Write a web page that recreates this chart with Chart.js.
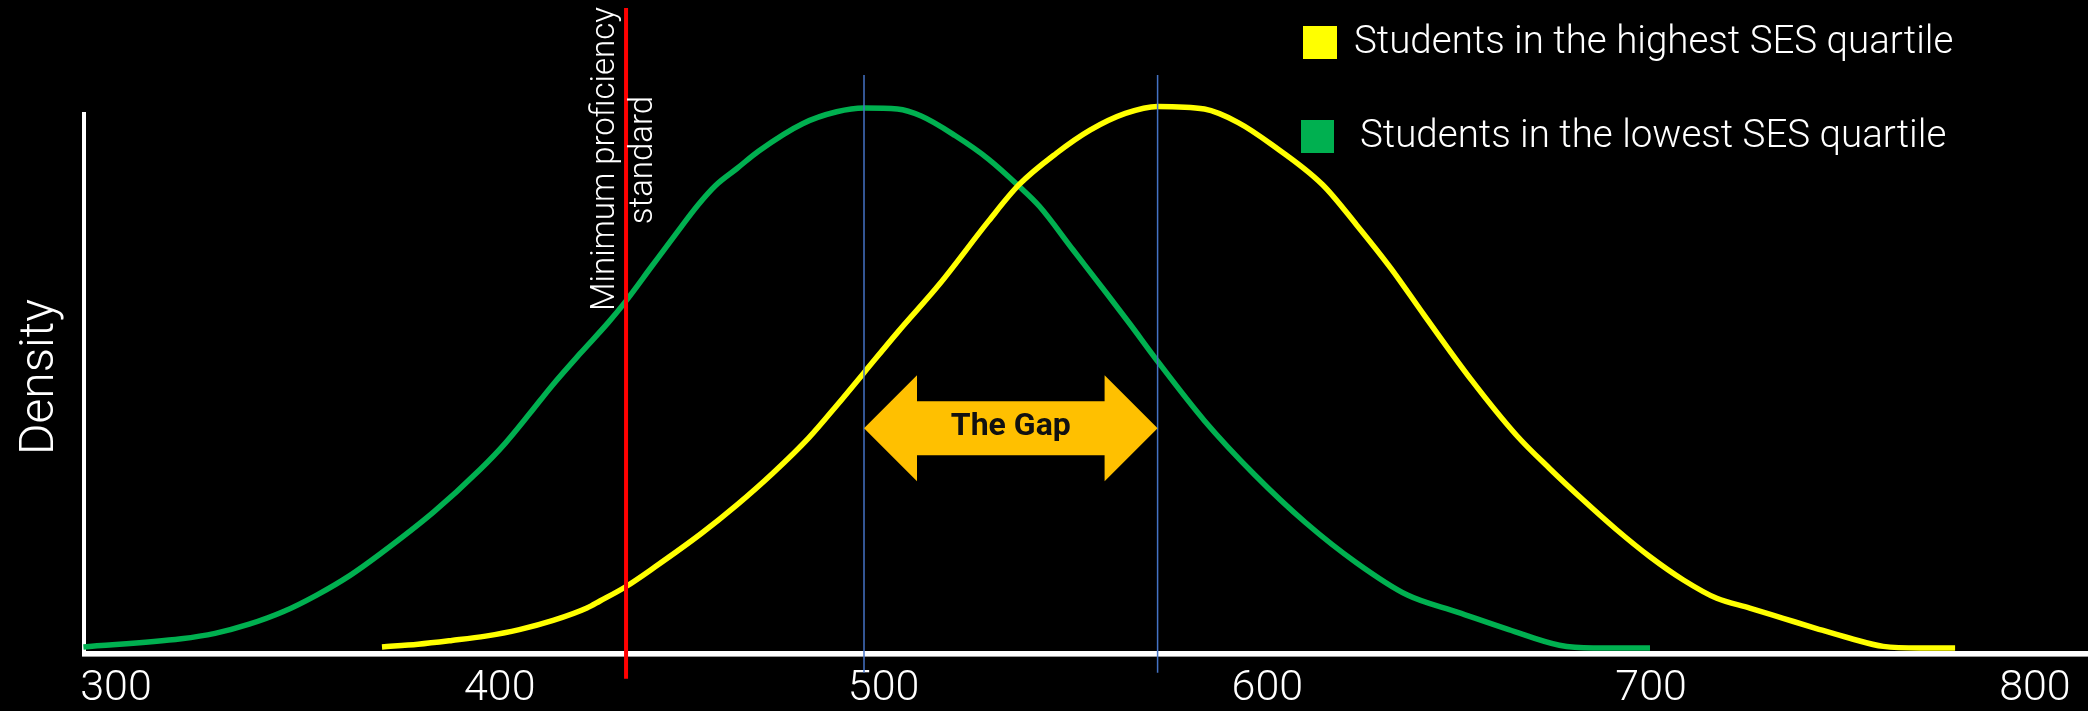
<!DOCTYPE html>
<html><head><meta charset="utf-8">
<script src="https://cdn.jsdelivr.net/npm/chart.js@4.4.1/dist/chart.umd.min.js"></script>
<style>
html,body{margin:0;padding:0;background:#000;overflow:hidden;}
#wrap{position:relative;width:2088px;height:711px;background:#000;}
</style></head><body>
<div id="wrap"><canvas id="c" width="2088" height="711"></canvas></div>
<script>
// ---- data ----
const seriesNames = ['Students in the highest SES quartile', 'Students in the lowest SES quartile'];
const seriesColors = ['#FFFF00', '#00B050'];
const xTicks = [300, 400, 500, 600, 700, 800];

// lowest SES quartile (green)
const lowX = [291.5, 317, 325.8, 334.7, 343.5, 352.3, 361.1, 368.8, 382.8, 394.8, 401.4, 407.9, 413.4, 420.9, 428.3, 432.7, 439.5, 446, 451.6, 456.3, 461.8, 467.4, 478.9, 487.8, 494.9, 503.6, 509.8, 518.6, 527.4, 535.3, 540.6, 549.4, 558.2, 564.2, 571.3, 583.6, 596.8, 610, 623.2, 636.5, 649.7, 662.9, 676.1, 684.9, 699.7];
const lowY = [0.002, 0.017, 0.027, 0.044, 0.067, 0.098, 0.135, 0.174, 0.252, 0.330, 0.379, 0.435, 0.484, 0.545, 0.603, 0.641, 0.706, 0.768, 0.820, 0.857, 0.888, 0.920, 0.971, 0.993, 1.0, 0.998, 0.985, 0.949, 0.905, 0.855, 0.818, 0.737, 0.656, 0.600, 0.532, 0.421, 0.320, 0.232, 0.158, 0.098, 0.066, 0.034, 0.005, 0.0, 0.0];

// highest SES quartile (yellow)
const highX = [369.3, 378.7, 387.5, 396.3, 405.1, 413.9, 422.7, 426.1, 432.7, 440.4, 452.5, 461.8, 471.2, 480.5, 487.9, 494.8, 503.7, 514.7, 527.4, 535.3, 545, 553.8, 563, 571.4, 583.6, 592.4, 601.2, 614.4, 623.2, 632.1, 640.9, 653.2, 664.9, 673.6, 682.3, 691, 699.7, 708.4, 717.1, 725.7, 734.4, 743.1, 751.8, 760.5, 770, 779.2];
const highY = [0.002, 0.007, 0.014, 0.022, 0.034, 0.051, 0.074, 0.087, 0.113, 0.150, 0.212, 0.265, 0.324, 0.389, 0.450, 0.509, 0.585, 0.675, 0.791, 0.858, 0.916, 0.959, 0.990, 1.003, 0.998, 0.973, 0.932, 0.858, 0.784, 0.704, 0.616, 0.496, 0.394, 0.332, 0.274, 0.219, 0.169, 0.126, 0.092, 0.074, 0.055, 0.036, 0.018, 0.003, 0.0, 0.0];

const minStandard = 432.9;           // red reference line
const meanLines = [494.9, 571.4];    // blue reference lines (peaks)
const gapLevel = 0.407;              // density level of the gap arrow
const gapLabel = 'The Gap';
const yTitle = 'Density';
const standardLabel = ['Minimum proficiency', 'standard'];

// ---- helpers ----
const toPts = (xs, ys) => xs.map((x, i) => ({x: x, y: ys[i]}));
const vline = (x, y0, y1) => [{x: x, y: y0}, {x: x, y: y1}];

const FONT = "Roboto, 'Noto Sans', 'DejaVu Sans', sans-serif";

const decor = {
  id: 'decor',
  beforeDatasetsDraw(chart) {
    const ctx = chart.ctx;
    ctx.save();
    ctx.fillStyle = '#ffffff';
    ctx.fillRect(82, 112, 4, 544);
    ctx.fillRect(82, 651, 2006, 5);
    ctx.fillStyle = '#9a9a9a';
    ctx.fillRect(82, 656, 2006, 1);
    ctx.restore();
  },
  afterDatasetsDraw(chart) {
    const ctx = chart.ctx;
    const xs = chart.scales.x, ys = chart.scales.y;
    ctx.save();
    // gap arrow
    const x1 = xs.getPixelForValue(meanLines[0]);
    const x2 = xs.getPixelForValue(meanLines[1]);
    const yc = ys.getPixelForValue(gapLevel);
    const hl = 53, hh = 53, sh = 27;
    ctx.fillStyle = '#FFC000';
    ctx.beginPath();
    ctx.moveTo(x1, yc);
    ctx.lineTo(x1 + hl, yc - hh);
    ctx.lineTo(x1 + hl, yc - sh);
    ctx.lineTo(x2 - hl, yc - sh);
    ctx.lineTo(x2 - hl, yc - hh);
    ctx.lineTo(x2, yc);
    ctx.lineTo(x2 - hl, yc + hh);
    ctx.lineTo(x2 - hl, yc + sh);
    ctx.lineTo(x1 + hl, yc + sh);
    ctx.lineTo(x1 + hl, yc + hh);
    ctx.closePath();
    ctx.fill();
    ctx.fillStyle = '#111111';
    ctx.font = "bold 32px " + FONT;
    ctx.textAlign = 'center';
    ctx.textBaseline = 'alphabetic';
    ctx.fillText(gapLabel, (x1 + x2) / 2, yc + 7);

    // legend
    ctx.textAlign = 'left';
    ctx.font = "300 38.5px " + FONT;
    ctx.fillStyle = seriesColors[0];
    ctx.fillRect(1303, 26, 34, 33);
    ctx.fillStyle = seriesColors[1];
    ctx.fillRect(1301, 120, 33, 33);
    ctx.fillStyle = '#ffffff';
    ctx.fillText(seriesNames[0], 1354, 53);
    ctx.fillText(seriesNames[1], 1360, 147);

    // y title
    ctx.save();
    ctx.translate(53, 377);
    ctx.rotate(-Math.PI / 2);
    ctx.textAlign = 'center';
    ctx.font = "300 48px " + FONT;
    ctx.fillText(yTitle, 0, 0);
    ctx.restore();

    // standard label
    const xr = xs.getPixelForValue(minStandard);
    ctx.font = "300 33px " + FONT;
    ctx.textAlign = 'center';
    ctx.save();
    ctx.translate(xr - 12, 159);
    ctx.rotate(-Math.PI / 2);
    ctx.fillText(standardLabel[0], 0, 0);
    ctx.restore();
    ctx.save();
    ctx.translate(xr + 26, 160);
    ctx.rotate(-Math.PI / 2);
    ctx.fillText(standardLabel[1], 0, 0);
    ctx.restore();
    ctx.restore();
  }
};

new Chart(document.getElementById('c'), {
  type: 'line',
  data: {
    datasets: [
      {label: 'Minimum proficiency standard', data: vline(minStandard, -0.057, 1.185), borderColor: '#FF0000', borderWidth: 4, pointRadius: 0, clip: false, order: 0},
      {label: 'mean low', data: vline(meanLines[0], -0.046, 1.061), borderColor: '#4472C4', borderWidth: 1.5, pointRadius: 0, clip: false, order: 1},
      {label: 'mean high', data: vline(meanLines[1], -0.046, 1.061), borderColor: '#4472C4', borderWidth: 1.5, pointRadius: 0, clip: false, order: 1},
      {label: seriesNames[0], data: toPts(highX, highY), borderColor: seriesColors[0], borderWidth: 5.5, pointRadius: 0, cubicInterpolationMode: 'monotone', clip: false, order: 2},
      {label: seriesNames[1], data: toPts(lowX, lowY), borderColor: seriesColors[1], borderWidth: 5.5, pointRadius: 0, cubicInterpolationMode: 'monotone', clip: false, order: 3}
    ]
  },
  options: {
    responsive: false,
    devicePixelRatio: 1,
    animation: false,
    layout: {padding: {left: 84, top: 0, right: 0, bottom: 0}},
    plugins: {legend: {display: false}, tooltip: {enabled: false}},
    scales: {
      x: {
        type: 'linear',
        min: 291.66,
        max: 813.83,
        afterBuildTicks: (s) => { s.ticks = xTicks.map(v => ({value: v})); },
        afterFit: (s) => { s.height = 63; },
        grid: {display: false, drawTicks: false},
        border: {display: false},
        ticks: {color: '#ffffff', font: {family: FONT, size: 43, weight: '300'}, padding: 15, maxRotation: 0, autoSkip: false}
      },
      y: {
        type: 'linear',
        min: 0,
        max: 1.2,
        display: false
      }
    }
  },
  plugins: [decor]
});
</script>
</body></html>
